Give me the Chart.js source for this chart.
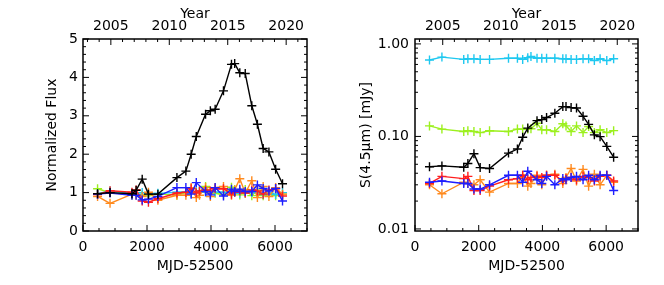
<!DOCTYPE html>
<html>
<head>
<meta charset="UTF-8">
<title>Light curves</title>
<script src="https://cdn.jsdelivr.net/npm/chart.js@4"></script>
<style>
  body { margin: 0; background: #fff; }
  .panel { position: absolute; top: 0; }
</style>
</head>
<body>
<canvas id="fluxChart" class="panel" width="332" height="285" style="left:0px"></canvas>
<canvas id="mjyChart" class="panel" width="332" height="285" style="left:332px"></canvas>
<script>
// epochs, MJD-52500
const mjd = [455, 845, 1530, 1660, 1850, 2045, 2340, 2935, 3215, 3380, 3540, 3640, 3830,
             3980, 4130, 4390, 4640, 4740, 4900, 5070, 5275, 5450, 5630, 5810, 6020, 6235];

// left panel: normalized flux
const normBlack  = [0.97, 1.00, 0.97, 1.06, 1.35, 0.96, 0.96, 1.39, 1.56, 2.00, 2.46, null, 3.04,
                    3.13, 3.17, 3.65, 4.34, 4.36, 4.12, 4.10, 3.26, 2.78, 2.15, 2.06, 1.61, 1.23];
const normRed    = [0.95, 1.05, 1.01, 1.07, 0.78, 0.75, 0.84, 0.99, 1.01, 1.10, 0.99, 1.04, 1.07,
                    1.04, 1.10, 1.10, 0.96, 1.01, 1.04, 0.99, 1.07, 1.04, 0.96, 1.07, 1.10, 0.91];
const normOrange = [0.90, 0.72, 0.96, 0.93, 0.90, 1.01, 0.80, 0.93, 0.93, 1.13, 0.87, 0.93, 1.13,
                    0.90, 1.13, 1.16, 0.93, 1.07, 1.36, 0.99, 1.31, 0.87, 1.16, 0.90, 1.13, 0.96];
const normBlue   = [0.96, 0.99, 0.93, 0.93, 0.81, 0.83, 0.90, 1.13, 1.13, 0.96, 1.26, null, 1.03,
                    0.94, 1.13, 0.91, 1.09, 1.03, 1.09, 1.03, 1.03, 1.20, 1.11, 1.04, 1.11, 0.78];
const normGreen  = [1.10, 1.00, 0.94, 0.96, 0.94, 0.92, 0.96, 0.94, 1.00, 1.00, 1.00, 1.01, 1.16,
                    0.98, 0.98, 0.94, 1.14, 1.08, 0.94, 1.08, 0.92, 1.07, 0.92, 0.98, 0.92, 0.96];
const normCyan   = [0.97, 1.04, 0.98, 1.00, 1.00, 0.98, 0.98, 1.01, 1.01, 0.98, 1.03, 1.05, 1.01,
                    1.01, 1.01, 1.01, 1.00, 1.00, 0.98, 0.98, 1.00, 1.00, 0.95, 1.00, 0.95, 1.00];

// right panel: S(4.5um) in mJy
const fluxBlack  = [0.047, 0.048, 0.0465, 0.051, 0.065, 0.046, 0.045, 0.066, 0.073, 0.098, 0.123, null, 0.148,
                    0.152, 0.160, 0.178, 0.210, 0.210, 0.205, 0.203, 0.165, 0.135, 0.104, 0.0995, 0.078, 0.0596];
const fluxRed    = [0.031, 0.037, 0.035, 0.037, 0.026, 0.026, 0.029, 0.034, 0.035, 0.038, 0.034, 0.036, 0.037,
                    0.036, 0.038, 0.038, 0.033, 0.035, 0.036, 0.034, 0.037, 0.036, 0.033, 0.037, 0.038, 0.033];
const fluxOrange = [0.030, 0.024, 0.032, 0.031, 0.030, 0.034, 0.025, 0.031, 0.031, 0.038, 0.029, 0.031, 0.038,
                    0.030, 0.038, 0.039, 0.031, 0.036, 0.045, 0.033, 0.044, 0.029, 0.039, 0.030, 0.038, 0.032];
const fluxBlue   = [0.032, 0.033, 0.031, 0.031, 0.027, 0.027, 0.030, 0.038, 0.038, 0.032, 0.042, null, 0.034,
                    0.031, 0.037, 0.030, 0.035, 0.034, 0.036, 0.037, 0.034, 0.038, 0.034, 0.038, 0.038, 0.026];
const fluxGreen  = [0.130, 0.120, 0.113, 0.1155, 0.113, 0.110, 0.115, 0.113, 0.120, 0.120, 0.120, 0.121, 0.139,
                    0.118, 0.118, 0.113, 0.137, 0.130, 0.113, 0.130, 0.110, 0.128, 0.110, 0.118, 0.110, 0.1155];
const fluxCyan   = [0.67, 0.72, 0.68, 0.69, 0.69, 0.68, 0.68, 0.70, 0.70, 0.68, 0.71, 0.73, 0.70,
                    0.70, 0.70, 0.70, 0.69, 0.69, 0.68, 0.68, 0.69, 0.69, 0.66, 0.69, 0.66, 0.69];

// tick labels
const mjdTicks  = [0, 2000, 4000, 6000];
const yearTicks = [2005, 2010, 2015, 2020];
const normTicks = [0, 1, 2, 3, 4, 5];
const logTicks  = [0.01, 0.1, 1];

Chart.defaults.font.family = 'DejaVu Sans';
Chart.defaults.font.size = 14;
Chart.defaults.color = '#000';

const colors = { black: '#000000', red: '#ff1e1e', orange: '#ff8a1e', blue: '#1e1eff', green: '#9cf01e', cyan: '#1ec8f0' };

// year axis shares the mjd axis range (MJD 51544 = 2000.0)
const yearMin = 2000 + (52500 - 51544) / 365.25;
const yearMax = yearMin + 7000 / 365.25;

function pts(vals) {
  const out = [];
  mjd.forEach((m, i) => { if (vals[i] !== null) out.push({ x: m, y: vals[i] }); });
  return out;
}

function series(vals, color, order) {
  return {
    data: pts(vals), borderColor: color, backgroundColor: color,
    showLine: true, borderWidth: 1.4, pointStyle: 'cross', pointRadius: 4.5,
    pointBorderWidth: 1.4, order: order
  };
}

function range(a, b, step) {
  const r = [];
  for (let v = a; v <= b + 1e-9; v += step) r.push(v);
  return r;
}

// IDL-like box with inward ticks
function frame(yMajor, yMinor) {
  return {
    id: 'frame',
    afterDatasetsDraw(chart) {
      const ctx = chart.ctx, a = chart.chartArea;
      const sx = chart.scales.x, sy = chart.scales.y, st = chart.scales.year;
      ctx.save();
      ctx.strokeStyle = '#000';
      ctx.lineWidth = 1.5;
      ctx.strokeRect(a.left, a.top, a.right - a.left, a.bottom - a.top);
      ctx.lineWidth = 1;
      ctx.beginPath();
      range(0, 7000, 500).forEach(v => {
        const p = sx.getPixelForValue(v), len = v % 2000 === 0 ? 6 : 3;
        ctx.moveTo(p, a.bottom); ctx.lineTo(p, a.bottom - len);
      });
      range(2003, 2021, 1).forEach(v => {
        const p = st.getPixelForValue(v), len = v % 5 === 0 ? 6 : 3;
        ctx.moveTo(p, a.top); ctx.lineTo(p, a.top + len);
      });
      yMajor.forEach(v => {
        const p = sy.getPixelForValue(v);
        ctx.moveTo(a.left, p); ctx.lineTo(a.left + 6, p);
        ctx.moveTo(a.right, p); ctx.lineTo(a.right - 6, p);
      });
      yMinor.forEach(v => {
        const p = sy.getPixelForValue(v);
        ctx.moveTo(a.left, p); ctx.lineTo(a.left + 3, p);
        ctx.moveTo(a.right, p); ctx.lineTo(a.right - 3, p);
      });
      ctx.stroke();
      ctx.restore();
    }
  };
}

function xScales() {
  return {
    x: {
      type: 'linear', position: 'bottom', min: 0, max: 7000,
      afterBuildTicks: s => { s.ticks = mjdTicks.map(v => ({ value: v })); },
      afterFit: s => { s.height = 54; },
      ticks: { padding: 8, callback: v => String(v) },
      grid: { display: false, drawTicks: false }, border: { display: false },
      title: { display: true, text: 'MJD-52500', padding: { top: 0, bottom: 10 } }
    },
    year: {
      type: 'linear', position: 'top', min: yearMin, max: yearMax,
      afterBuildTicks: s => { s.ticks = yearTicks.map(v => ({ value: v })); },
      afterFit: s => { s.height = 39; },
      ticks: { padding: 4, callback: v => String(v) },
      grid: { display: false, drawTicks: false }, border: { display: false },
      title: { display: true, text: 'Year', padding: { top: 6, bottom: 0 } }
    }
  };
}

const normMinor = range(0, 5, 0.2).filter(v => Math.abs(v - Math.round(v)) > 1e-6);

new Chart(document.getElementById('fluxChart'), {
  type: 'scatter',
  data: {
    datasets: [
      series(normBlack, colors.black, 0),
      series(normBlue, colors.blue, 1),
      series(normRed, colors.red, 2),
      series(normOrange, colors.orange, 3),
      series(normCyan, colors.cyan, 4),
      series(normGreen, colors.green, 5)
    ]
  },
  options: {
    responsive: false, animation: false,
    layout: { padding: { left: 0, right: 25, top: 0, bottom: 0 } },
    plugins: { legend: { display: false }, tooltip: { enabled: false } },
    scales: Object.assign(xScales(), {
      y: {
        type: 'linear', min: 0, max: 5,
        afterBuildTicks: s => { s.ticks = normTicks.map(v => ({ value: v })); },
        afterFit: s => { s.width = 83; },
        ticks: { padding: 5, callback: v => String(v) },
        grid: { display: false, drawTicks: false }, border: { display: false },
        title: { display: true, text: 'Normalized Flux', padding: { top: 44, bottom: 0 } }
      }
    })
  },
  plugins: [frame(normTicks, normMinor)]
});

const logMinor = [];
[0.01, 0.1].forEach(d => { for (let k = 2; k <= 9; k++) logMinor.push(d * k); });

new Chart(document.getElementById('mjyChart'), {
  type: 'scatter',
  data: {
    datasets: [
      series(fluxBlack, colors.black, 0),
      series(fluxBlue, colors.blue, 1),
      series(fluxRed, colors.red, 2),
      series(fluxOrange, colors.orange, 3),
      series(fluxCyan, colors.cyan, 4),
      series(fluxGreen, colors.green, 5)
    ]
  },
  options: {
    responsive: false, animation: false,
    layout: { padding: { left: 0, right: 26, top: 0, bottom: 0 } },
    plugins: { legend: { display: false }, tooltip: { enabled: false } },
    scales: Object.assign(xScales(), {
      y: {
        type: 'logarithmic', min: 0.0095, max: 1.13,
        afterBuildTicks: s => { s.ticks = logTicks.map(v => ({ value: v })); },
        afterFit: s => { s.width = 83; },
        ticks: { padding: 6, callback: v => Number(v).toFixed(2) },
        grid: { display: false, drawTicks: false }, border: { display: false },
        title: { display: true, text: 'S(4.5μm) [mJy]', padding: { top: 26, bottom: 0 } }
      }
    })
  },
  plugins: [frame(logTicks, logMinor)]
});
</script>
</body>
</html>
